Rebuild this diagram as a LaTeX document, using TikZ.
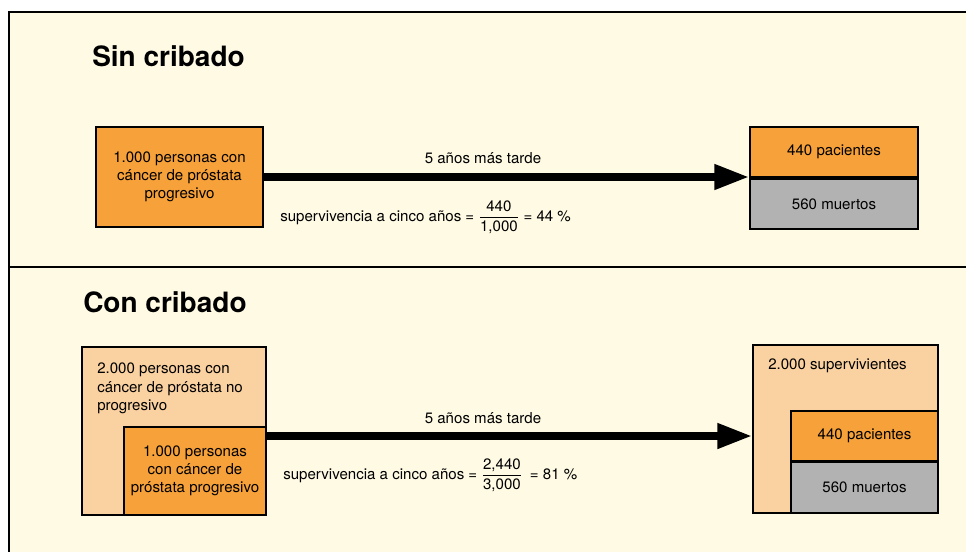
\documentclass[tikz,border=0pt]{standalone}
\usepackage{fontspec}
\setmainfont{TeX Gyre Heros}
\usepackage{amsmath}
\usetikzlibrary{arrows.meta}
\definecolor{cream}{HTML}{FEFAE4}
\definecolor{orangeA}{HTML}{F6A139}
\definecolor{orangeB}{HTML}{FAD1A0}
\definecolor{greyA}{HTML}{B2B2B2}

\begin{document}
\begin{tikzpicture}[x=0.75pt,y=-0.75pt]
		\tikzset{box/.style={draw=black,line width=1.5pt,inner sep=0pt,align=center,font=\fontsize{11.3}{13.7}\selectfont},
			txt/.style={inner sep=0pt,font=\fontsize{11.3}{13.7}\selectfont},
			title/.style={inner sep=0pt,anchor=west,font=\fontsize{21}{25}\selectfont\bfseries},
			bigarrow/.style={line width=5.5pt,-{Triangle[length=26pt,width=18pt]}}};
		\useasboundingbox (0,0) rectangle (966,551);
		\fill[white] (0,0) rectangle (966,551);
		\clip (0,0) rectangle (966,551);
		\draw[fill=cream,line width=1.5pt] (9,12) rectangle (990,580);
		\draw[line width=1.1pt] (9,267) -- (990,267);
		% sin cribado
		\node[title] (sin) at (92,56) {Sin cribado};
		\node[box,fill=orangeA,minimum width=125.25pt,minimum height=75pt] (sick1) at (179.5,177) {1.000 personas con\\cáncer de próstata\\progresivo};
		\node[box,fill=orangeA,minimum width=126pt,minimum height=37.5pt] (pat1) at (834,152) {440 pacientes};
		\node[box,fill=greyA,minimum width=126pt,minimum height=37.5pt] (dead1) at (834,204) {560 muertos};
		\draw[bigarrow] (sick1.east) -- (sick1.east -| pat1.west);
		\node[txt] (later1) at (483,158) {5 años más tarde};
		\node[txt,anchor=west] (rate1) at (280,217) {supervivencia a cinco años = $\dfrac{\text{440}}{\text{1,000}}$ = 44 \%};
		% con cribado
		\node[title] (con) at (83,302) {Con cribado};
		\node[box,fill=orangeB,minimum width=138pt,minimum height=126pt] (all2) at (174,431) {};
		\node[txt,anchor=north west,align=left] (nonprog) at (97,363) {2.000 personas con\\cáncer de próstata no\\progresivo};
		\node[box,fill=orangeA,minimum width=106.5pt,minimum height=66pt] (sick2) at (195,471) {1.000 personas\\con cáncer de\\próstata progresivo};
		\node[box,fill=orangeB,minimum width=138.75pt,minimum height=126pt] (surv2) at (845.5,429) {};
		\node[txt,anchor=west] (survtxt) at (768,366) {2.000 supervivientes};
		\node[box,fill=orangeA,minimum width=110.25pt,minimum height=37.5pt] (pat2) at (864.5,436) {440 pacientes};
		\node[box,fill=greyA,minimum width=110.25pt,minimum height=38.25pt] (dead2) at (864.5,487.5) {560 muertos};
		\draw[bigarrow] (all2.east |- pat2.west) -- (surv2.west |- pat2.west);
		\node[txt] (later2) at (483,418) {5 años más tarde};
		\node[txt,anchor=west] (rate2) at (283,475) {supervivencia a cinco años = $\dfrac{\text{2,440}}{\text{3,000}}$\enspace = 81 \%};
	\end{tikzpicture}
\end{document}
